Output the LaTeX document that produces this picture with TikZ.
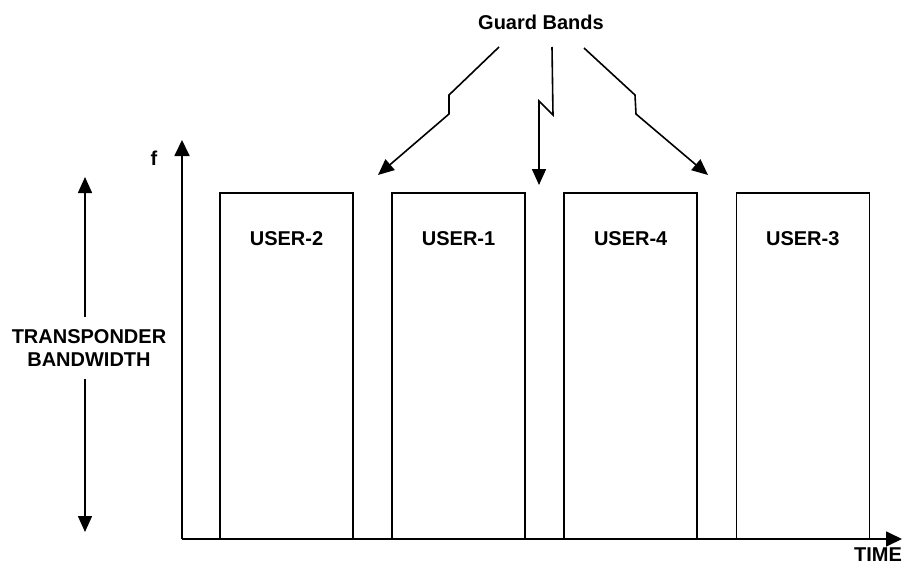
\documentclass[tikz,border=0pt]{standalone}
\usepackage{fontspec}
\setmainfont{Liberation Sans}
\usetikzlibrary{arrows.meta,positioning}

\begin{document}
\begin{tikzpicture}[
  x=0.5pt, y=-0.5pt,
  %% style definitions
  band/.style = {draw, line width=0.8pt, minimum width=66.5pt,
                 minimum height=173pt, inner sep=0pt},
  ulbl/.style = {font=\bfseries\fontsize{10}{11.5}\selectfont,
                 inner sep=0pt, align=center},
  axis/.style = {-{Triangle[length=8pt,width=7.5pt]}, line width=0.9pt},
  arr/.style  = {-{Triangle[length=8pt,width=7pt]}, line width=0.8pt},
  bolt/.style = {arr, line join=miter},
]
\useasboundingbox (0,0) rectangle (906,573);

%% ── Axes ─────────────────────────────────────────────────────────────────────
\coordinate (o)    at (182,539);
\coordinate (ftop) at (182,140);
\coordinate (tend) at (902,539);
\draw[axis] (o) -- (ftop);
\draw[axis] (o) -- (tend);
\node[ulbl] (flbl) at (154,158) {f};
\node[ulbl] (tlbl) at (878,555) {TIME};

%% ── User bands ───────────────────────────────────────────────────────────────
\node[band] (b2) at (286.5,366) {};
\node[band, right=18.75pt of b2] (b1) {};
\node[band, right=18.75pt of b1] (b4) {};
\node[band, right=18.75pt of b4] (b3) {};

\node[ulbl, below=19.5pt of b2.north] (u2) {USER-2};
\node[ulbl, below=19.5pt of b1.north] (u1) {USER-1};
\node[ulbl, below=19.5pt of b4.north] (u4) {USER-4};
\node[ulbl, below=19.5pt of b3.north] (u3) {USER-3};

%% ── Transponder bandwidth ────────────────────────────────────────────────────
\node[ulbl, inner sep=6pt] (tb) at (89,348) {TRANSPONDER\\BANDWIDTH};
\coordinate (bwtop) at (85,177);
\coordinate (bwbot) at (85,532);
\draw[arr] (tb.north -| bwtop) -- (bwtop);
\draw[arr] (tb.south -| bwbot) -- (bwbot);

%% ── Guard bands ──────────────────────────────────────────────────────────────
\node[ulbl] (gb) at (541,22) {Guard Bands};
\coordinate (g1) at (499,47);
\coordinate (g2) at (552,47);
\coordinate (g3) at (584,48);
\coordinate (gap1) at (378,175);
\coordinate (gap2) at (539,185);
\coordinate (gap3) at (708,175);

\draw[bolt] (g1) -- (449,95)  -- (449,114) -- (gap1);
\draw[bolt] (g2) -- (553,115) -- (539,101) -- (gap2);
\draw[bolt] (g3) -- (635,95)  -- (636,114) -- (gap3);

\end{tikzpicture}
\end{document}
